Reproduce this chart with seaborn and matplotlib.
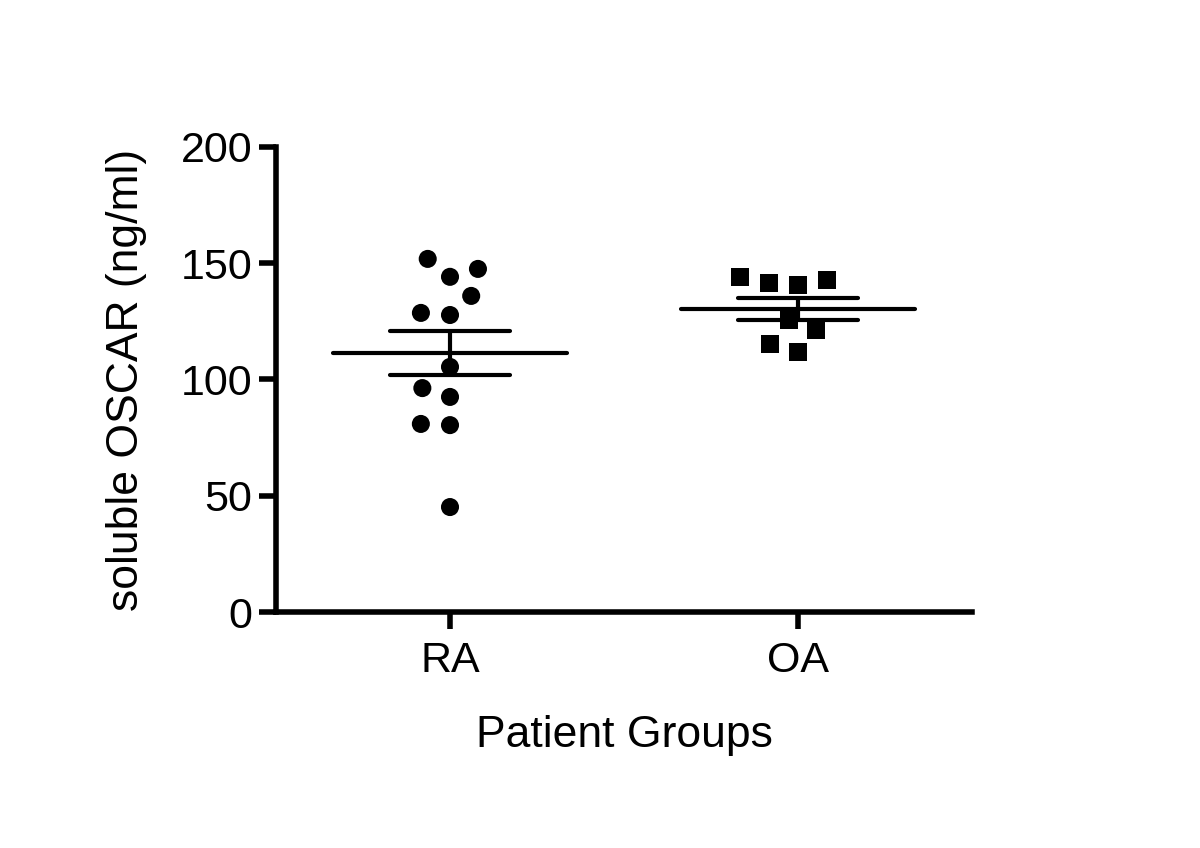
import numpy as np
import pandas as pd
import matplotlib
matplotlib.use("Agg")
import matplotlib.pyplot as plt
import seaborn as sns

groups = ["RA", "OA"]
ra_values = [151.8, 147.5, 144.1, 135.9, 127.7, 128.6, 105.4, 96.3, 92.5, 80.9, 80.4, 45.2]
oa_values = [142.8, 140.6, 141.6, 144.2, 121.3, 125.6, 115.3, 112.0]
y_ticks = [0, 50, 100, 150, 200]

sns.set_theme(style="ticks")
plt.rcParams['font.family'] = ['Liberation Sans', 'DejaVu Sans']

df = pd.DataFrame({
    "group": ["RA"] * len(ra_values) + ["OA"] * len(oa_values),
    "value": ra_values + oa_values,
})

fig = plt.figure(figsize=(12, 8.48), dpi=100)
ax = fig.add_axes([0.23, 0.278, 0.58, 0.549])

# invisible edge widens the swarm spacing without enlarging the markers
sns.swarmplot(data=df[df.group == "RA"], x="group", y="value", order=groups,
              color="black", size=13, marker="o", ax=ax, zorder=3,
              linewidth=7, edgecolor="none")
sns.swarmplot(data=df[df.group == "OA"], x="group", y="value", order=groups,
              color="black", size=13, marker="s", ax=ax, zorder=3,
              linewidth=7, edgecolor="none")

for i, g in enumerate(groups):
    vals = np.array(df[df.group == g]["value"])
    m = vals.mean()
    se = vals.std(ddof=1) / np.sqrt(len(vals))
    ax.hlines(m, i - 0.335, i + 0.335, color="black", lw=3, zorder=4, capstyle="round")
    ax.hlines([m - se, m + se], i - 0.172, i + 0.172, color="black", lw=3, zorder=4, capstyle="round")
    ax.vlines(i, m - se, m + se, color="black", lw=3, zorder=4)

ax.set_xlim(-0.5, 1.5)
ax.set_ylim(0, 200)
ax.set_yticks(y_ticks)
ax.set_yticklabels([str(t) for t in y_ticks])
ax.set_xticks(range(len(groups)))
ax.set_xticklabels(groups)

for s in ["top", "right"]:
    ax.spines[s].set_visible(False)
for s in ["left", "bottom"]:
    ax.spines[s].set_linewidth(4)
    ax.spines[s].set_color("black")

ax.tick_params(axis="both", direction="out", length=12, width=4, color="black",
               labelsize=31, labelcolor="black", pad=5)
ax.tick_params(axis="x", pad=9)
ax.set_xlabel("Patient Groups", fontsize=32, labelpad=24, color="black")
ax.set_ylabel("soluble OSCAR (ng/ml)", fontsize=32, labelpad=24, color="black")
ax.grid(False)
ax.set_facecolor("white")
fig.patch.set_facecolor("white")

fig.savefig("out.png", dpi=100, facecolor="white")
